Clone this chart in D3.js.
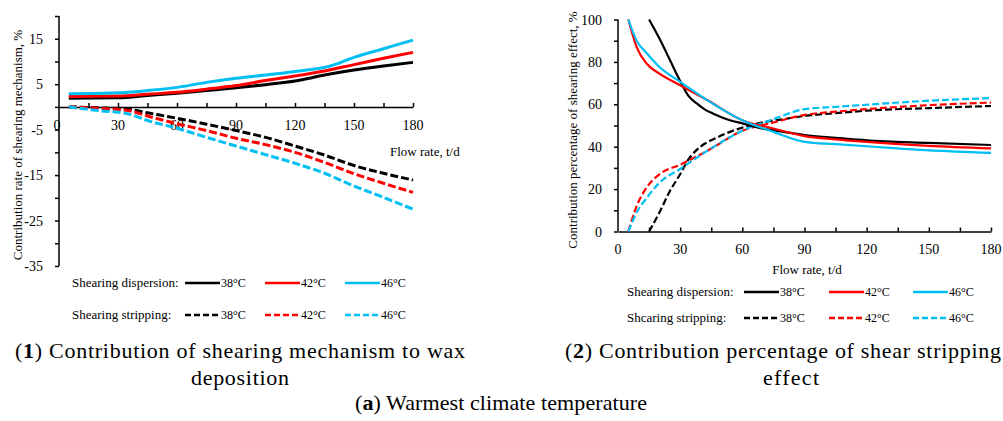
<!DOCTYPE html>
<html>
<head>
<meta charset="utf-8">
<script src="https://cdn.jsdelivr.net/npm/d3@7"></script>
<style>
  body { margin: 0; background: #fff; }
  svg text { font-family: "Liberation Serif", "Times New Roman", serif; fill: #000; }
</style>
</head>
<body>
<div id="wrapper"></div>
<script>
// ---- data (flow rate t/d, value) ----
// chart 1: contribution rate of shearing mechanism, %
const disp1_38 = [[5,1.9],[30,2.0],[45,2.5],[60,3.0],[75,3.6],[90,4.2],[105,4.9],[120,5.7],[135,7.0],[150,8.1],[165,9.0],[180,9.8]]
const disp1_42 = [[5,2.3],[30,2.4],[45,2.8],[60,3.2],[75,3.9],[90,4.7],[105,5.8],[120,6.8],[135,7.9],[150,9.3],[165,10.7],[180,12.0]]
const disp1_46 = [[5,2.9],[30,3.1],[45,3.6],[60,4.3],[75,5.4],[90,6.3],[105,7.0],[120,7.8],[138,9.0],[150,10.9],[165,12.8],[180,14.7]]
const strip1_38 = [[5,0],[20,-0.2],[35,-0.5],[45,-1.3],[60,-2.5],[75,-3.8],[90,-5.2],[105,-6.7],[120,-8.6],[135,-10.6],[150,-12.9],[165,-14.6],[180,-16.1]]
const strip1_42 = [[5,0],[20,-0.3],[35,-0.8],[45,-2.0],[60,-3.7],[75,-5.2],[90,-6.9],[105,-8.3],[120,-10.0],[135,-12.2],[150,-14.7],[165,-16.8],[180,-18.8]]
const strip1_46 = [[5,0],[20,-0.8],[35,-1.5],[45,-3.0],[60,-4.7],[75,-6.7],[90,-8.6],[105,-10.5],[120,-12.4],[135,-14.6],[150,-17.4],[165,-19.9],[180,-22.5]]

// chart 2: contribution percentage of shearing effect, %
const disp2_38 = [[15,100],[20,91],[25,81],[30,71],[34,64],[38,60.4],[42,57.5],[46,55.6],[54,52.5],[60,51],[70,48.5],[80,47],[90,45.5],[105,44.2],[120,43],[150,41.8],[180,40.8]]
const disp2_42 = [[5,100],[9,87],[14,79],[20,74.5],[30,69],[43,62],[60,52.5],[75,48.6],[90,45],[105,43.5],[120,42.3],[150,40.4],[180,39.2]]
const disp2_46 = [[5,100],[9,90],[14,84],[20,77.6],[30,70.6],[43,62],[60,52.5],[75,47],[90,42.3],[105,41.2],[120,40.2],[150,38.3],[180,37.1]]
const strip2_38 = [[15,0],[20,9],[25,19],[30,27],[34,34],[38,38.5],[42,41.5],[46,43.5],[54,47],[60,49],[70,51.5],[80,53],[90,54.5],[105,55.8],[120,57],[150,58.2],[180,59.2]]
const strip2_42 = [[5,0],[9,12],[14,21],[20,27],[30,31.5],[43,38],[60,47.5],[75,51.4],[90,55],[105,56.5],[120,57.7],[150,59.6],[180,60.8]]
const strip2_46 = [[5,0],[9,9],[14,16],[20,23],[30,29.5],[43,38],[60,47.5],[75,53],[90,57.7],[105,58.8],[120,59.8],[150,61.7],[180,62.9]]

const temps = ["38°C", "42°C", "46°C"]
const colors = ["#000000", "#ff0000", "#00bff2"]
const xTicks = [0, 30, 60, 90, 120, 150, 180]
const yTicks1 = [15, 5, -5, -15, -25, -35]
const yTicks2 = [0, 20, 40, 60, 80, 100]

const svg = d3.select("#wrapper").append("svg")
  .attr("width", 1003)
  .attr("height", 421)

const line = (x, y) => d3.line()
  .x(d => x(d[0]))
  .y(d => y(d[1]))
  .curve(d3.curveMonotoneX)

// ---------- chart 1 ----------
const x1 = d3.scaleLinear().domain([0, 180]).range([59, 413])
const y1 = d3.scaleLinear().domain([-35, 20]).range([266, 16])
const g1 = svg.append("g")

// y axis
g1.append("g")
  .attr("transform", `translate(${x1(0)},0)`)
  .call(d3.axisLeft(y1).tickValues(d3.range(-35, 21, 5)).tickSize(4).tickFormat(""))
  .call(g => g.select(".domain").attr("d", `M0,${y1(-35)}V${y1(20)}`))
  .call(g => g.selectAll("line, path").attr("stroke", "#000").attr("stroke-width", 1.5))
g1.selectAll(".ylab1").data(yTicks1).join("text")
  .attr("x", 43).attr("y", d => y1(d) + 5)
  .attr("text-anchor", "end").attr("font-size", 14)
  .text(d => d)

// x axis at y=0, ticks upward
g1.append("g")
  .attr("transform", `translate(0,${y1(0)})`)
  .call(d3.axisTop(x1).tickValues(d3.range(15, 181, 15)).tickSize(4).tickSizeOuter(0).tickFormat(""))
  .call(g => g.selectAll("line, path").attr("stroke", "#000").attr("stroke-width", 1.5))
g1.selectAll(".xlab1").data(xTicks).join("text")
  .attr("x", d => d === 0 ? x1(d) - 2 : x1(d)).attr("y", y1(0) + 23)
  .attr("text-anchor", "middle").attr("font-size", 14)
  .text(d => d)

g1.append("text").attr("x", 390).attr("y", 156).attr("font-size", 13).text("Flow rate, t/d")
g1.append("text")
  .attr("transform", "translate(22,145) rotate(-90)")
  .attr("text-anchor", "middle").attr("font-size", 13)
  .text("Contribution rate of shearing mechanism, %")

const series1 = [disp1_38, disp1_42, disp1_46]
const series1s = [strip1_38, strip1_42, strip1_46]
series1s.forEach((s, i) => {
  g1.append("path").datum(s)
    .attr("d", line(x1, y1))
    .attr("fill", "none").attr("stroke", colors[i])
    .attr("stroke-width", 3).attr("stroke-dasharray", "8,3")
})
series1.forEach((s, i) => {
  g1.append("path").datum(s)
    .attr("d", line(x1, y1))
    .attr("fill", "none").attr("stroke", colors[i])
    .attr("stroke-width", 3)
})

// ---------- chart 2 ----------
const x2 = d3.scaleLinear().domain([0, 180]).range([618, 991])
const y2 = d3.scaleLinear().domain([0, 100]).range([231.5, 19.5])
const g2 = svg.append("g")

g2.append("g")
  .attr("transform", `translate(${x2(0)},0)`)
  .call(d3.axisLeft(y2).tickValues(d3.range(0, 101, 10)).tickSize(4).tickFormat(""))
  .call(g => g.select(".domain").attr("d", `M0,${y2(0)}V${y2(100)}`))
  .call(g => g.selectAll("line, path").attr("stroke", "#000").attr("stroke-width", 1.5))
g2.selectAll(".ylab2").data(yTicks2).join("text")
  .attr("x", 602).attr("y", d => y2(d) + 5)
  .attr("text-anchor", "end").attr("font-size", 14)
  .text(d => d)

g2.append("g")
  .attr("transform", `translate(0,${y2(0)})`)
  .call(d3.axisTop(x2).tickValues(d3.range(15, 181, 15)).tickSize(4).tickSizeOuter(0).tickFormat(""))
  .call(g => g.selectAll("line, path").attr("stroke", "#000").attr("stroke-width", 1.5))
g2.selectAll(".xlab2").data(xTicks).join("text")
  .attr("x", d => x2(d)).attr("y", y2(0) + 22)
  .attr("text-anchor", "middle").attr("font-size", 14)
  .text(d => d)

g2.append("text").attr("x", 807).attr("y", 274).attr("text-anchor", "middle")
  .attr("font-size", 13).text("Flow rate, t/d")
g2.append("text")
  .attr("transform", "translate(577,130) rotate(-90)")
  .attr("text-anchor", "middle").attr("font-size", 13)
  .text("Contribution percentage of shearing effect, %")

svg.append("clipPath").attr("id", "clip2")
  .append("rect").attr("x", x2(0)).attr("y", y2(100) - 1)
  .attr("width", x2(180) - x2(0) + 3).attr("height", y2(0) - y2(100) + 2)

const series2 = [disp2_38, disp2_42, disp2_46]
const series2s = [strip2_38, strip2_42, strip2_46]
series2s.forEach((s, i) => {
  g2.append("path").datum(s)
    .attr("clip-path", "url(#clip2)")
    .attr("d", line(x2, y2))
    .attr("fill", "none").attr("stroke", colors[i])
    .attr("stroke-width", 2.2).attr("stroke-dasharray", "7,3")
})
series2.forEach((s, i) => {
  g2.append("path").datum(s)
    .attr("clip-path", "url(#clip2)")
    .attr("d", line(x2, y2))
    .attr("fill", "none").attr("stroke", colors[i])
    .attr("stroke-width", 2.2)
})

// ---------- legends ----------
function legend(g, rows, lx, textX, ys, sw) {
  rows.forEach((r, j) => {
    g.append("text").attr("x", textX).attr("y", ys[j] + 4)
      .attr("font-size", 13).text(r)
    lx.forEach((x0, i) => {
      g.append("line")
        .attr("x1", x0).attr("x2", x0 + 35)
        .attr("y1", ys[j]).attr("y2", ys[j])
        .attr("stroke", colors[i]).attr("stroke-width", sw)
        .attr("stroke-dasharray", j === 1 ? "6,3" : null)
      g.append("text").attr("x", x0 + 36).attr("y", ys[j] + 4)
        .attr("font-size", 12).text(temps[i])
    })
  })
}
legend(g1, ["Shearing dispersion:", "Shearing stripping:"], [185, 265, 345], 72, [283, 315], 2.5)
legend(g2, ["Shearing dispersion:", "Shcaring stripping:"], [744, 829, 913], 627, [292, 318], 2.5)

// ---------- captions ----------
function caption(x, y, num, rest, len) {
  const t = svg.append("text").attr("x", x).attr("y", y)
    .attr("text-anchor", "middle").attr("font-size", 22)
    .attr("textLength", len).attr("lengthAdjust", "spacing")
  t.append("tspan").text("(")
  t.append("tspan").attr("font-weight", "bold").text(num)
  t.append("tspan").text(")" + rest)
}
function plain(x, y, txt, len) {
  svg.append("text").attr("x", x).attr("y", y).attr("text-anchor", "middle")
    .attr("font-size", 22).attr("textLength", len).attr("lengthAdjust", "spacing")
    .text(txt)
}
caption(240, 358, "1", " Contribution of shearing mechanism to wax", 450)
plain(240, 385, "deposition", 98)
caption(783, 358, "2", " Contribution percentage of shear stripping", 436)
plain(791, 385, "effect", 56)
caption(501, 410, "a", " Warmest climate temperature", 292)
</script>
</body>
</html>
